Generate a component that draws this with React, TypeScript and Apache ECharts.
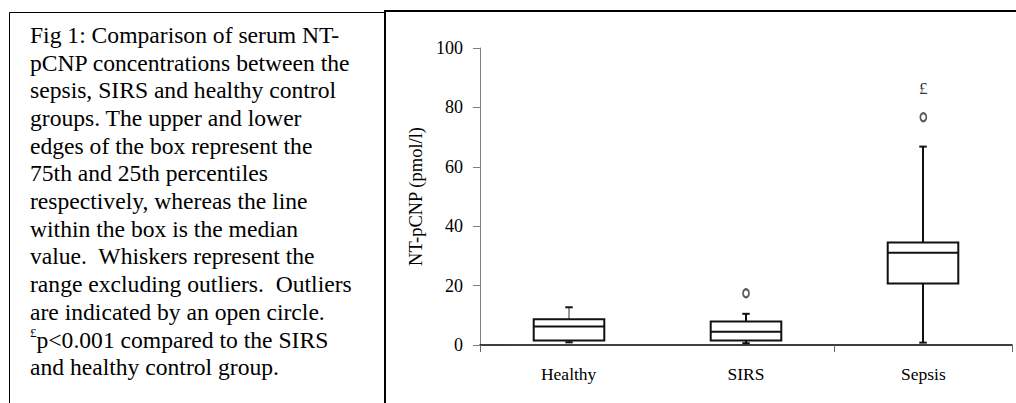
import React, { useEffect, useRef } from "react";
import * as echarts from "echarts";

// ---------- data ----------
const categories = ["Healthy", "SIRS", "Sepsis"];
// [lower whisker, Q1 (25th), median, Q3 (75th), upper whisker]
const healthyBox = [0.9, 1.5, 6.2, 8.7, 12.7];
const sirsBox = [0.6, 1.5, 4.5, 7.9, 10.5];
const sepsisBox = [0.8, 20.7, 31.1, 34.5, 66.8];
// outliers: [category index, value]
const outlierPoints = [
  [1, 17.4],
  [2, 76.7],
];
// significance marker (£) above sepsis
const significanceMarks = [[2, 86.4]];
const yMin = 0;
const yMax = 100;
const yInterval = 20;
const yAxisTitle = "NT-pCNP (pmol/l)";
const captionLines = [
  "Fig 1: Comparison of serum NT-",
  "pCNP concentrations between the",
  "sepsis, SIRS and healthy control",
  "groups. The upper and lower",
  "edges of the box represent the",
  "75th and 25th percentiles",
  "respectively, whereas the line",
  "within the box is the median",
  "value.  Whiskers represent the",
  "range excluding outliers.  Outliers",
  "are indicated by an open circle.",
  "{sup|£}p<0.001 compared to the SIRS",
  "and healthy control group.",
];

const SERIF = "'Liberation Serif', 'Times New Roman', serif";

export default function App() {
  const ref = useRef<HTMLDivElement>(null);

  useEffect(() => {
    if (!ref.current) return;
    const chart = echarts.init(ref.current, null, { renderer: "svg" });
    const boxes = [healthyBox, sirsBox, sepsisBox];
    const boxData = boxes.map((b, i) => [i, ...b]);

    const option: any = {
      animation: false,
      backgroundColor: "#ffffff",
      textStyle: { fontFamily: SERIF, color: "#000" },
      grid: { left: 480, right: 4, top: 48, bottom: 58, containLabel: false },
      xAxis: {
        type: "category",
        data: categories,
        boundaryGap: true,
        axisLine: { show: true, lineStyle: { color: "#000", width: 1.5 } },
        axisTick: {
          show: true,
          length: 7,
          interval: (index: number) => index !== 1,
          lineStyle: { color: "#666", width: 1 },
        },
        axisLabel: {
          interval: 0,
          margin: 20,
          fontSize: 17.5,
          fontFamily: SERIF,
          color: "#000",
        },
        splitLine: { show: false },
      },
      yAxis: {
        type: "value",
        min: yMin,
        max: yMax,
        interval: yInterval,
        name: yAxisTitle,
        nameLocation: "middle",
        nameRotate: 90,
        nameGap: 45,
        nameTextStyle: { fontSize: 18.5, fontFamily: SERIF, color: "#000" },
        axisLine: { show: true, lineStyle: { color: "#808080", width: 1 } },
        axisTick: { show: true, inside: false, length: 7, lineStyle: { color: "#808080" } },
        axisLabel: { margin: 17, fontSize: 18, fontFamily: SERIF, color: "#000" },
        splitLine: { show: false },
      },
      series: [
        {
          type: "custom",
          name: "box",
          data: boxData,
          encode: { x: 0, y: [1, 2, 3, 4, 5] },
          clip: false,
          renderItem: (params: any, api: any) => {
            const idx = api.value(0);
            const lo = api.value(1);
            const q1 = api.value(2);
            const med = api.value(3);
            const q3 = api.value(4);
            const hi = api.value(5);
            const band = api.size([1, 0])[0];
            const cx = Math.round(api.coord([idx, 0])[0]);
            const hw = band * 0.199;
            const cw = band * 0.021;
            const y = (v: number) => api.coord([idx, v])[1];
            const stemColor = idx === 0 ? "#777" : "#111";
            const stemW = idx === 0 ? 1.5 : 2;
            return {
              type: "group",
              children: [
                {
                  type: "line",
                  shape: { x1: cx, y1: y(q3), x2: cx, y2: y(hi) },
                  style: { stroke: stemColor, lineWidth: stemW },
                },
                {
                  type: "line",
                  shape: { x1: cx, y1: y(q1), x2: cx, y2: y(lo) },
                  style: { stroke: stemColor, lineWidth: stemW },
                },
                {
                  type: "line",
                  shape: { x1: cx - cw, y1: y(hi), x2: cx + cw, y2: y(hi) },
                  style: { stroke: "#111", lineWidth: 2 },
                },
                {
                  type: "line",
                  shape: { x1: cx - cw, y1: y(lo), x2: cx + cw, y2: y(lo) },
                  style: { stroke: "#111", lineWidth: 2 },
                },
                {
                  type: "rect",
                  shape: { x: cx - hw, y: y(q3), width: 2 * hw, height: y(q1) - y(q3) },
                  style: { fill: "#fff", stroke: "#111", lineWidth: 2 },
                },
                {
                  type: "line",
                  shape: { x1: cx - hw, y1: y(med), x2: cx + hw, y2: y(med) },
                  style: { stroke: "#111", lineWidth: 2 },
                },
              ],
            };
          },
        },
        {
          type: "scatter",
          name: "outliers",
          data: outlierPoints,
          symbol: "emptyCircle",
          symbolSize: [6, 8],
          itemStyle: { color: "#333", borderWidth: 1 },
          z: 5,
        },
        {
          type: "scatter",
          name: "significance",
          data: significanceMarks,
          symbolSize: 0,
          label: {
            show: true,
            position: "inside",
            formatter: "£",
            fontSize: 17,
            fontFamily: SERIF,
            color: "#000",
          },
          z: 5,
        },
      ],
      graphic: [
        {
          type: "rect",
          shape: { x: 9.5, y: 12.5, width: 375, height: 420 },
          style: { fill: "none", stroke: "#000", lineWidth: 1 },
          silent: true,
        },
        {
          type: "polyline",
          shape: { points: [[385, 420], [385, 11], [1030, 11]] },
          style: { fill: "none", stroke: "#000", lineWidth: 2 },
          silent: true,
        },
        {
          type: "text",
          x: 30,
          y: 21,
          style: {
            text: captionLines.join("\n"),
            fontFamily: SERIF,
            fontSize: 23.6,
            lineHeight: 27.7,
            fill: "#000",
            verticalAlign: "top",
            align: "left",
            rich: {
              sup: {
                fontSize: 13,
                fontFamily: SERIF,
                verticalAlign: "top",
                lineHeight: 27.7,
              },
            },
          },
          silent: true,
        },
      ],
    };

    chart.setOption(option);
    return () => chart.dispose();
  }, []);

  return (
    <div
      ref={ref}
      style={{ position: "absolute", left: 0, top: 0, width: 1016, height: 403 }}
    />
  );
}
